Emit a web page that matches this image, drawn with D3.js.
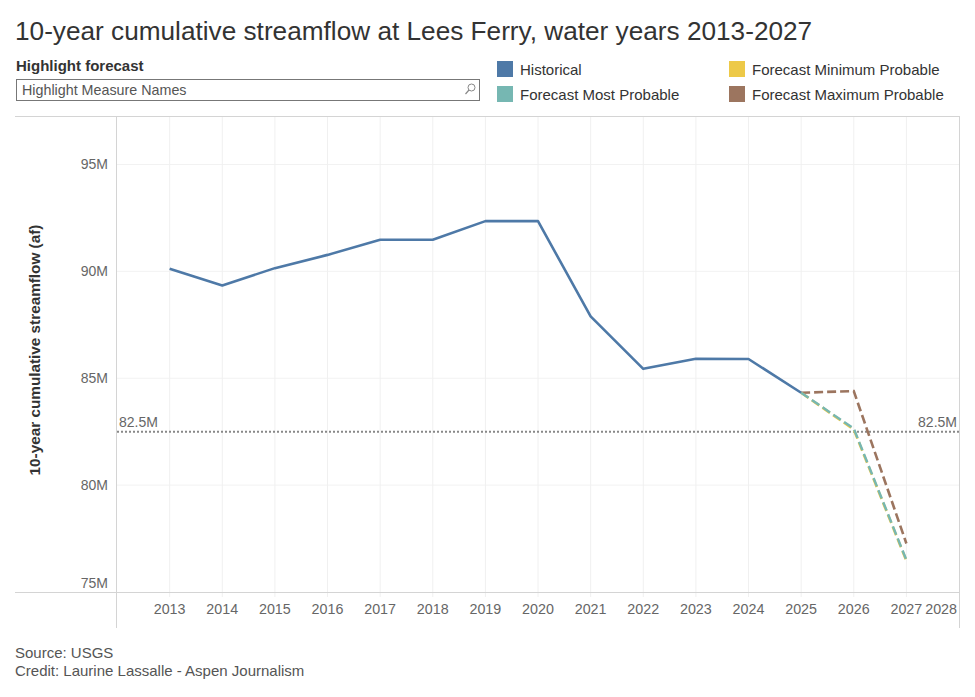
<!DOCTYPE html>
<html>
<head>
<meta charset="utf-8">
<script src="https://cdn.jsdelivr.net/npm/d3@7"></script>
<style>
  html, body { margin: 0; padding: 0; background: #fff; }
  svg { display: block; font-family: "Liberation Sans", Arial, sans-serif; }
</style>
</head>
<body>
<svg id="chart" width="975" height="697"></svg>
<script>
// ---- data ----
const years = [2013, 2014, 2015, 2016, 2017, 2018, 2019, 2020, 2021, 2022, 2023, 2024, 2025];
const historical = [90.12, 89.34, 90.15, 90.77, 91.48, 91.48, 92.35, 92.35, 87.89, 85.44, 85.91, 85.90, 84.32];
const forecastYears = [2025, 2026, 2027];
const forecastMin = [84.32, 82.60, 76.46];
const forecastMost = [84.32, 82.65, 76.50];
const forecastMax = [84.32, 84.40, 77.27];
const yTicks = [75, 80, 85, 90, 95];
const xTicks = [2013, 2014, 2015, 2016, 2017, 2018, 2019, 2020, 2021, 2022, 2023, 2024, 2025, 2026, 2027, 2028];
const threshold = 82.5;
const legendItems = [
  { name: "Historical", color: "#4e79a7" },
  { name: "Forecast Most Probable", color: "#76b7b2" },
  { name: "Forecast Minimum Probable", color: "#edc948" },
  { name: "Forecast Maximum Probable", color: "#9c755f" }
];

(function () {
const svg = d3.select("#chart");
const pL = 117, pR = 959, pT = 117, pB = 592;

const x = d3.scaleLinear().domain([2012, 2028]).range([pL, pR]);
const y = d3.scaleLinear().domain([75, 97.22]).range([pB, pT]);

// Title
svg.append("text").attr("x", 15).attr("y", 40)
  .attr("font-size", 26.2).attr("fill", "#333")
  .text("10-year cumulative streamflow at Lees Ferry, water years 2013-2027");

// Highlight control
svg.append("text").attr("x", 16).attr("y", 71)
  .attr("font-size", 15).attr("font-weight", "bold").attr("fill", "#333")
  .text("Highlight forecast");
svg.append("rect").attr("x", 16.5).attr("y", 79.5).attr("width", 463).attr("height", 21)
  .attr("fill", "#fff").attr("stroke", "#777").attr("stroke-width", 1);
svg.append("text").attr("x", 22).attr("y", 95)
  .attr("font-size", 14.3).attr("fill", "#555")
  .text("Highlight Measure Names");
svg.append("circle").attr("cx", 471.5).attr("cy", 87.5).attr("r", 3.5)
  .attr("fill", "none").attr("stroke", "#888").attr("stroke-width", 1);
svg.append("line").attr("x1", 469).attr("y1", 90).attr("x2", 465.5).attr("y2", 94)
  .attr("stroke", "#888").attr("stroke-width", 1.2);

// Legend
const legendPos = [[497, 61], [497, 86], [729, 61], [729, 86]];
const leg = svg.append("g");
legendItems.forEach((d, i) => {
  const [lx, ly] = legendPos[i];
  leg.append("rect").attr("x", lx).attr("y", ly).attr("width", 16).attr("height", 16).attr("fill", d.color);
  leg.append("text").attr("x", lx + 23).attr("y", ly + 14)
    .attr("font-size", 15).attr("fill", "#333").text(d.name);
});

// Gridlines
const grid = svg.append("g");
grid.selectAll("line.hg").data(yTicks.filter(t => t > 75)).join("line")
  .attr("x1", pL).attr("x2", pR)
  .attr("y1", d => y(d)).attr("y2", d => y(d))
  .attr("stroke", "#f2f2f2").attr("stroke-width", 1);
grid.selectAll("line.vg").data(xTicks.filter(t => t < 2028)).join("line")
  .attr("x1", d => x(d)).attr("x2", d => x(d))
  .attr("y1", pT).attr("y2", pB + 5)
  .attr("stroke", "#f0f0f0").attr("stroke-width", 1);

// Frame lines
svg.append("line").attr("x1", 15).attr("x2", 960).attr("y1", pT - 0.5).attr("y2", pT - 0.5)
  .attr("stroke", "#d4d4d4");
svg.append("line").attr("x1", 15).attr("x2", 960).attr("y1", pB + 0.5).attr("y2", pB + 0.5)
  .attr("stroke", "#d4d4d4");
svg.append("line").attr("x1", pL - 0.5).attr("x2", pL - 0.5).attr("y1", pT).attr("y2", 628)
  .attr("stroke", "#d4d4d4");
svg.append("line").attr("x1", pR + 0.5).attr("x2", pR + 0.5).attr("y1", pT).attr("y2", 628)
  .attr("stroke", "#d4d4d4");

// Y axis labels
const yAxis = svg.append("g");
yAxis.selectAll("text").data(yTicks).join("text")
  .attr("x", 108)
  .attr("y", d => d === 75 ? y(d) - 4 : y(d) + 5)
  .attr("text-anchor", "end").attr("font-size", 14).attr("fill", "#666")
  .text(d => d + "M");

svg.append("text")
  .attr("transform", "translate(40, 350) rotate(-90)")
  .attr("text-anchor", "middle").attr("font-size", 15.3).attr("font-weight", "bold").attr("fill", "#333")
  .text("10-year cumulative streamflow (af)");

// X axis labels
const xAxis = svg.append("g");
xAxis.selectAll("text").data(xTicks).join("text")
  .attr("x", d => d === 2028 ? pR - 2 : x(d))
  .attr("y", 614)
  .attr("text-anchor", d => d === 2028 ? "end" : "middle")
  .attr("font-size", 14.3).attr("fill", "#666")
  .text(d => d);

// Threshold line
svg.append("line").attr("x1", pL).attr("x2", pR)
  .attr("y1", y(threshold)).attr("y2", y(threshold))
  .attr("stroke", "#888").attr("stroke-width", 2).attr("stroke-dasharray", "2,2");
svg.append("text").attr("x", 119).attr("y", y(threshold) - 5)
  .attr("font-size", 14).attr("fill", "#666").text(threshold + "M");
svg.append("text").attr("x", 957).attr("y", y(threshold) - 5)
  .attr("text-anchor", "end").attr("font-size", 14).attr("fill", "#666").text(threshold + "M");

// Lines
const line = d3.line().x(d => x(d[0])).y(d => y(d[1]));
const zip = (xs, vs) => xs.map((v, i) => [v, vs[i]]);

svg.append("path").datum(zip(forecastYears, forecastMax))
  .attr("d", line).attr("fill", "none").attr("stroke", "#9c755f")
  .attr("stroke-width", 2.6).attr("stroke-dasharray", "9,4");
svg.append("path").datum(zip(forecastYears, forecastMin))
  .attr("d", line).attr("fill", "none").attr("stroke", "#edc948")
  .attr("stroke-width", 2.6).attr("stroke-dasharray", "9,4");
svg.append("path").datum(zip(forecastYears, forecastMost))
  .attr("d", line).attr("fill", "none").attr("stroke", "#76b7b2")
  .attr("stroke-width", 2.4).attr("stroke-dasharray", "9,4");
svg.append("path").datum(zip(years, historical))
  .attr("d", line).attr("fill", "none").attr("stroke", "#4e79a7")
  .attr("stroke-width", 2.6).attr("stroke-linejoin", "round");

// Footer
svg.append("text").attr("x", 15).attr("y", 658)
  .attr("font-size", 15).attr("fill", "#555").text("Source: USGS");
svg.append("text").attr("x", 15).attr("y", 676)
  .attr("font-size", 15).attr("fill", "#555").text("Credit: Laurine Lassalle - Aspen Journalism");
})();
</script>
</body>
</html>
